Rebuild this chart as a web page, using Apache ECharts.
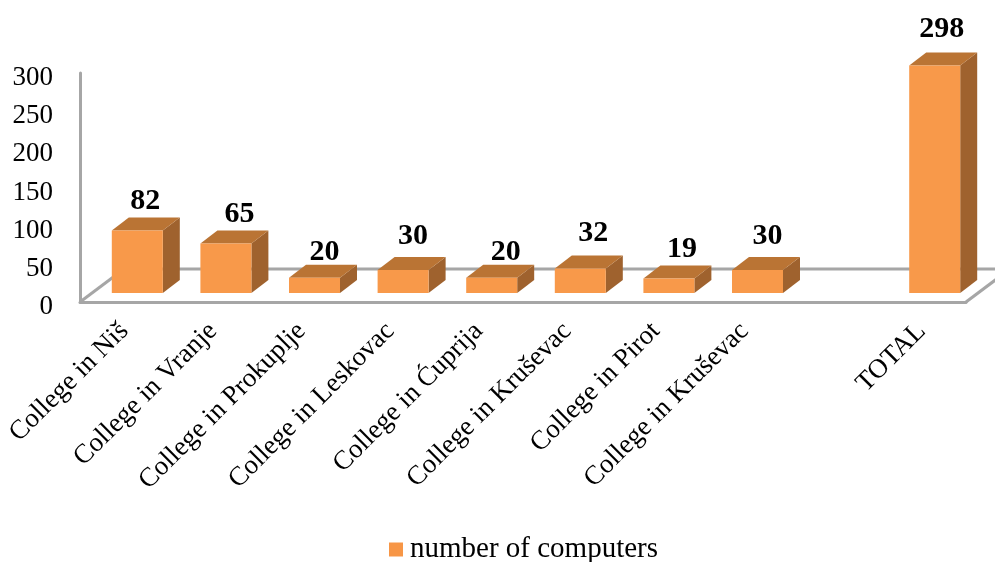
<!DOCTYPE html>
<html><head><meta charset="utf-8">
<style>html,body{margin:0;padding:0;background:#fff}#c{width:995px;height:562px}</style>
<script src="https://cdn.jsdelivr.net/npm/echarts@6/dist/echarts.min.js"></script>
</head><body><div id="c"></div>
<script>
const categories = ['College in Niš','College in Vranje','College in Prokuplje','College in Leskovac','College in Ćuprija','College in Kruševac','College in Pirot','College in Kruševac','','TOTAL'];
const computers = [82,65,20,30,20,32,19,30,null,298];
const seriesName = 'number of computers';
const yTicks = {min:0,max:300,interval:50};
// label placement quirks of the original (dx, dy from the bar's front-top centre)
const labelDx = [8,13.5,10,10,14,13,13,10,0,7];
const labelDy = [-29,-29,-25,-34,-25,-35,-29,-34,0,-36];

const FONT = '"Liberation Serif", serif';
const FRONT='#F8994A', TOP='#BA7434', SIDE='#9F622E', AXIS='#A6A6A6';
const BAR_W=51, SHIFT=[13,-9], DEPTH=[17,-13], FLOOR=[44,-33];

const chart = echarts.init(document.getElementById('c'),null,{renderer:'canvas'});
chart.setOption({
  animation:false,
  backgroundColor:'#fff',
  grid:{left:80,right:29,top:73,bottom:260,containLabel:false},
  legend:{show:true,data:[seriesName],left:384,top:530,itemWidth:14,itemHeight:14,itemGap:6,icon:'rect',
    textStyle:{fontFamily:FONT,fontSize:29,color:'#000',padding:[0,0,2,2]}},
  xAxis:{type:'category',data:categories,boundaryGap:true,
    axisLine:{show:true,lineStyle:{color:AXIS,width:3}},axisTick:{show:false},splitLine:{show:false},
    axisLabel:{interval:0,rotate:45,fontFamily:FONT,fontSize:27,color:'#000',margin:25}},
  yAxis:{type:'value',min:yTicks.min,max:yTicks.max,interval:yTicks.interval,
    axisLine:{show:true,lineStyle:{color:AXIS,width:3}},axisTick:{show:false},splitLine:{show:false},
    axisLabel:{fontFamily:FONT,fontSize:27,color:'#000',margin:27,verticalAlign:'top',lineHeight:10}},
  series:[
    {type:'custom',name:'floor',z:1,silent:true,data:[0],encode:{x:0},tooltip:{show:false},
     renderItem(params,api){
       const o=api.coord([0,0]);
       const cs=params.coordSys;
       const x0=cs.x, x1=cs.x+cs.width, y0=o[1];
       const st={stroke:AXIS,lineWidth:3,fill:null};
       return {type:'group',children:[
         {type:'line',shape:{x1:x0,y1:y0,x2:x0+FLOOR[0],y2:y0+FLOOR[1]},style:st},
         {type:'line',shape:{x1:x0+FLOOR[0],y1:y0+FLOOR[1],x2:x1+FLOOR[0],y2:y0+FLOOR[1]},style:st},
         {type:'line',shape:{x1:x1,y1:y0,x2:x1+FLOOR[0],y2:y0+FLOOR[1]},style:st}
       ]};
     }},
    {type:'custom',name:seriesName,z:3,itemStyle:{color:'#F79646'},
     data:computers.map((v,i)=>[i,v]),encode:{x:0,y:1},
     renderItem(params,api){
       const i=api.value(0), v=api.value(1);
       if(isNaN(v)||v===null) return null;
       const top=api.coord([i,v]), base=api.coord([i,0]);
       const l=top[0]-BAR_W/2+SHIFT[0], r=l+BAR_W, t=top[1]+SHIFT[1], b=base[1]+SHIFT[1];
       const dx=DEPTH[0], dy=DEPTH[1];
       return {type:'group',children:[
         {type:'polygon',shape:{points:[[r,t],[r+dx,t+dy],[r+dx,b+dy],[r,b]]},style:{fill:SIDE}},
         {type:'polygon',shape:{points:[[l,t],[l+dx,t+dy],[r+dx,t+dy],[r,t]]},style:{fill:TOP}},
         {type:'rect',shape:{x:l,y:t,width:BAR_W,height:b-t},style:{fill:FRONT}},
         {type:'text',style:{text:String(v),x:l+BAR_W/2+labelDx[i],y:t+labelDy[i],
           align:'center',verticalAlign:'middle',fill:'#000',font:'bold 30px '+FONT}}
       ]};
     }}
  ]
});
</script></body></html>
